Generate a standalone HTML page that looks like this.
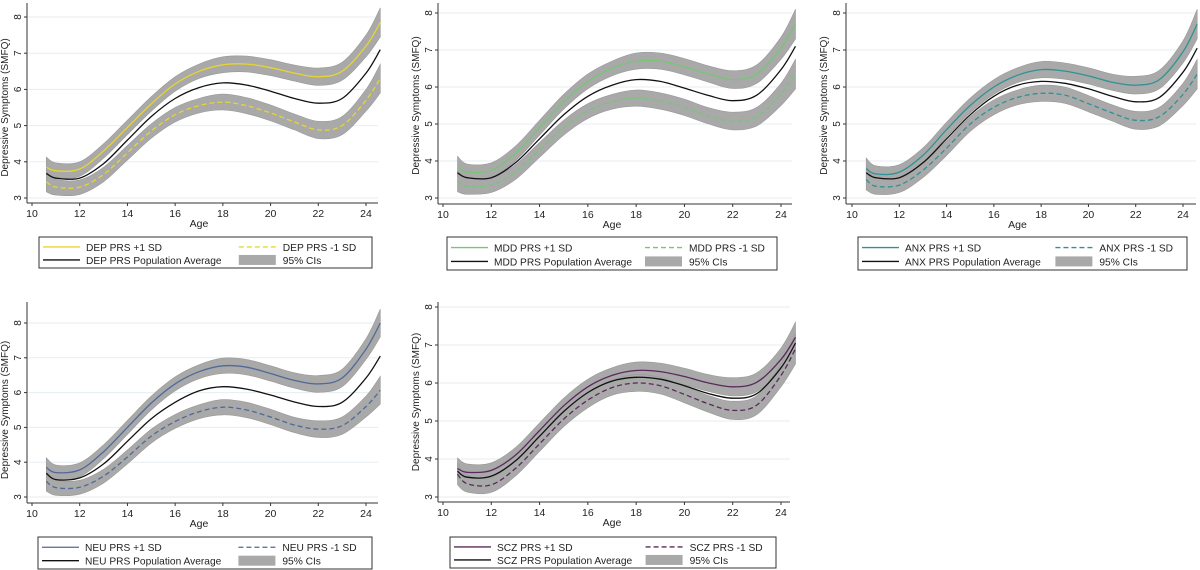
<!DOCTYPE html>
<html><head><meta charset="utf-8">
<style>
body{margin:0;background:#fff;}
svg{display:block;font-family:"Liberation Sans",sans-serif;}
</style></head>
<body>
<svg id="chart" width="1200" height="570" viewBox="0 0 1200 570" xmlns="http://www.w3.org/2000/svg"></svg>
<script>
const ages = [10.6,11,12,13,14,15,16,17,18,19,20,21,22,23,24,24.6];
const yTicks = [3,4,5,6,7,8];
const xTicks = [10,12,14,16,18,20,22,24];
const panelNames = ["DEP","MDD","ANX","NEU","SCZ"];
const meanDEP = [3.68,3.55,3.55,3.95,4.6,5.25,5.75,6.05,6.18,6.12,5.95,5.75,5.62,5.75,6.45,7.1];
const plusDEP = [3.85,3.75,3.8,4.3,4.95,5.6,6.15,6.5,6.68,6.7,6.6,6.45,6.35,6.5,7.2,7.85];
const minusDEP = [3.45,3.3,3.3,3.65,4.25,4.85,5.3,5.55,5.65,5.55,5.35,5.1,4.88,5.0,5.7,6.3];
const meanMDD = [3.68,3.55,3.55,3.95,4.6,5.25,5.75,6.05,6.2,6.15,5.97,5.77,5.63,5.78,6.47,7.1];
const plusMDD = [3.85,3.7,3.75,4.2,4.9,5.6,6.15,6.5,6.7,6.7,6.55,6.35,6.2,6.35,7.05,7.7];
const minusMDD = [3.45,3.32,3.35,3.7,4.3,4.9,5.35,5.6,5.7,5.62,5.45,5.22,5.08,5.2,5.8,6.35];
const meanANX = [3.68,3.55,3.55,3.95,4.6,5.25,5.75,6.05,6.15,6.1,5.95,5.75,5.6,5.72,6.4,7.05];
const plusANX = [3.8,3.65,3.7,4.15,4.85,5.5,6.0,6.32,6.47,6.43,6.3,6.13,6.05,6.2,6.95,7.7];
const minusANX = [3.5,3.32,3.35,3.75,4.35,5.0,5.45,5.72,5.83,5.78,5.55,5.3,5.1,5.2,5.8,6.35];
const meanNEU = [3.68,3.5,3.55,3.95,4.6,5.25,5.72,6.05,6.17,6.1,5.93,5.73,5.6,5.72,6.42,7.05];
const plusNEU = [3.85,3.7,3.78,4.3,5.0,5.7,6.25,6.6,6.77,6.73,6.55,6.35,6.25,6.42,7.25,8.0];
const minusNEU = [3.45,3.27,3.28,3.6,4.15,4.75,5.17,5.45,5.58,5.5,5.3,5.07,4.95,5.05,5.6,6.07];
const meanSCZ = [3.68,3.52,3.55,3.95,4.6,5.25,5.75,6.05,6.15,6.1,5.93,5.72,5.6,5.72,6.4,7.05];
const plusSCZ = [3.75,3.65,3.7,4.1,4.75,5.4,5.9,6.2,6.33,6.3,6.17,6.0,5.9,6.02,6.62,7.2];
const minusSCZ = [3.6,3.35,3.32,3.75,4.4,5.05,5.55,5.88,6.0,5.93,5.7,5.45,5.28,5.42,6.2,6.9];
const ciHalf = [0.28,0.22,0.2,0.2,0.2,0.2,0.2,0.2,0.22,0.22,0.22,0.22,0.24,0.25,0.3,0.4];

const svg = document.getElementById('chart');
const NS = 'http://www.w3.org/2000/svg';
function mk(tag, attrs, parent){const e=document.createElementNS(NS,tag);for(const k in attrs)e.setAttribute(k,attrs[k]);(parent||svg).appendChild(e);return e;}

const panels = [
 {name:"DEP",col:"#e6d530",mean:meanDEP,plus:plusDEP,minus:minusDEP,ax:27,x10:32,x24:366,y8:17,y3:198,top:3,bot:203,right:378,lx:39,lx2:372,ly:237,ly2:268},
 {name:"MDD",col:"#76c676",mean:meanMDD,plus:plusMDD,minus:minusMDD,ax:438,x10:443,x24:781,y8:13,y3:198,top:3,bot:204,right:792,lx:447,lx2:777,ly:237,ly2:270},
 {name:"ANX",col:"#2e9296",mean:meanANX,plus:plusANX,minus:minusANX,ax:846,x10:852,x24:1183,y8:13,y3:198,top:3,bot:204,right:1196,lx:858,lx2:1187,ly:237,ly2:270},
 {name:"NEU",col:"#4f6a98",mean:meanNEU,plus:plusNEU,minus:minusNEU,ax:27,x10:32,x24:366,y8:323,y3:497,top:302,bot:503,right:378,lx:38,lx2:372,ly:537,ly2:569},
 {name:"SCZ",col:"#5a2a5c",mean:meanSCZ,plus:plusSCZ,minus:minusSCZ,ax:438,x10:443,x24:781,y8:307,y3:497,top:302,bot:502,right:790,lx:450,lx2:776,ly:537,ly2:568}
];

function smooth(pts){
  let d='M'+pts[0][0].toFixed(1)+','+pts[0][1].toFixed(1);
  for(let i=0;i<pts.length-1;i++){
    const p0=pts[Math.max(0,i-1)],p1=pts[i],p2=pts[i+1],p3=pts[Math.min(pts.length-1,i+2)];
    const c1=[p1[0]+(p2[0]-p0[0])/6,p1[1]+(p2[1]-p0[1])/6];
    const c2=[p2[0]-(p3[0]-p1[0])/6,p2[1]-(p3[1]-p1[1])/6];
    d+=' C'+c1[0].toFixed(1)+','+c1[1].toFixed(1)+' '+c2[0].toFixed(1)+','+c2[1].toFixed(1)+' '+p2[0].toFixed(1)+','+p2[1].toFixed(1);
  }
  return d;
}

panels.forEach(p=>{
  const g=mk('g',{});
  
  
  const X=a=>p.x10+(a-10)*(p.x24-p.x10)/14;
  const Y=v=>p.y3-(v-3)*(p.y3-p.y8)/5;
  yTicks.forEach(t=>{
    const l=mk('line',{x1:p.ax+1,x2:p.right,y1:Y(t),y2:Y(t),stroke:'#e6eef2','stroke-width':1},g);
    
    
  });
  [p.plus,p.minus].forEach((s,si)=>{
    const upper=ages.map((a,i)=>[X(a),Y(s[i]+ciHalf[i])]);
    const lower=ages.map((a,i)=>[X(a),Y(s[i]-ciHalf[i])]).reverse();
    const d=smooth(upper)+' L'+smooth(lower).slice(1)+' Z';
    const b=mk('path',{d:d,fill:'#a9a9a9',stroke:'#999','stroke-width':0.6},g);
    
    
  });
  const pl=mk('path',{d:smooth(ages.map((a,i)=>[X(a),Y(p.plus[i])])),fill:'none',stroke:p.col,'stroke-width':1.3},g);
  
  
  const mi=mk('path',{d:smooth(ages.map((a,i)=>[X(a),Y(p.minus[i])])),fill:'none',stroke:p.col,'stroke-width':1.3,'stroke-dasharray':'5,3'},g);
  
  
  const me=mk('path',{d:smooth(ages.map((a,i)=>[X(a),Y(p.mean[i])])),fill:'none',stroke:'#111','stroke-width':1.3},g);
  
  
  const ya=mk('line',{x1:p.ax,x2:p.ax,y1:p.top,y2:p.bot,stroke:'#333','stroke-width':1},g);
  
  
  const xa=mk('line',{x1:p.ax,x2:p.right,y1:p.bot,y2:p.bot,stroke:'#333','stroke-width':1},g);
  
  
  yTicks.forEach(t=>{
    mk('line',{x1:p.ax-3,x2:p.ax,y1:Y(t),y2:Y(t),stroke:'#333'},g);
    const tx=mk('text',{x:p.ax-6,y:Y(t),'font-size':10,fill:'#222','text-anchor':'middle',transform:`rotate(-90 ${p.ax-6} ${Y(t)})`},g);
    tx.textContent=t;
    
    
  });
  xTicks.forEach(t=>{
    mk('line',{x1:X(t),x2:X(t),y1:p.bot,y2:p.bot+3,stroke:'#333'},g);
    const tx=mk('text',{x:X(t),y:p.bot+14,'font-size':10.5,fill:'#222','text-anchor':'middle'},g);
    tx.textContent=t;
    
    
  });
  const xt=mk('text',{x:(p.x10+p.x24)/2,y:p.bot+24,'font-size':10.5,fill:'#222','text-anchor':'middle'},g);
  xt.textContent='Age';
  
  
  const ycx=p.ax-19, ycy=(p.y8+p.y3)/2;
  const yt=mk('text',{x:ycx,y:ycy,'font-size':10,fill:'#222','text-anchor':'middle',transform:`rotate(-90 ${ycx} ${ycy})`},g);
  yt.textContent='Depressive Symptoms (SMFQ)';
  
  
  const lg=mk('g',{},g);
  
  
  mk('rect',{x:p.lx,y:p.ly,width:p.lx2-p.lx,height:p.ly2-p.ly,fill:'#fff',stroke:'#333','stroke-width':1},lg);
  const r1=p.ly+(p.ly2-p.ly)*0.32, r2=p.ly+(p.ly2-p.ly)*0.74;
  const w=p.lx2-p.lx;
  const c2=p.lx+w*0.6;
  mk('line',{x1:p.lx+4,x2:p.lx+41,y1:r1,y2:r1,stroke:p.col,'stroke-width':1.3},lg);
  mk('line',{x1:p.lx+4,x2:p.lx+41,y1:r2,y2:r2,stroke:'#111','stroke-width':1.3},lg);
  mk('line',{x1:c2,x2:c2+37,y1:r1,y2:r1,stroke:p.col,'stroke-width':1.3,'stroke-dasharray':'5,3'},lg);
  mk('rect',{x:c2,y:r2-5,width:37,height:10,fill:'#a9a9a9'},lg);
  const items=[[p.lx+47,r1,p.name+' PRS +1 SD','legend-entry-plus'],[p.lx+47,r2,p.name+' PRS Population Average','legend-entry-average'],[c2+44,r1,p.name+' PRS -1 SD','legend-entry-minus'],[c2+44,r2,'95% CIs','legend-entry-ci']];
  items.forEach(it=>{
    const t=mk('text',{x:it[0],y:it[1]+4,'font-size':10.2,fill:'#222'},lg);
    t.textContent=it[2];
    
    
  });
});
</script>
</body></html>
